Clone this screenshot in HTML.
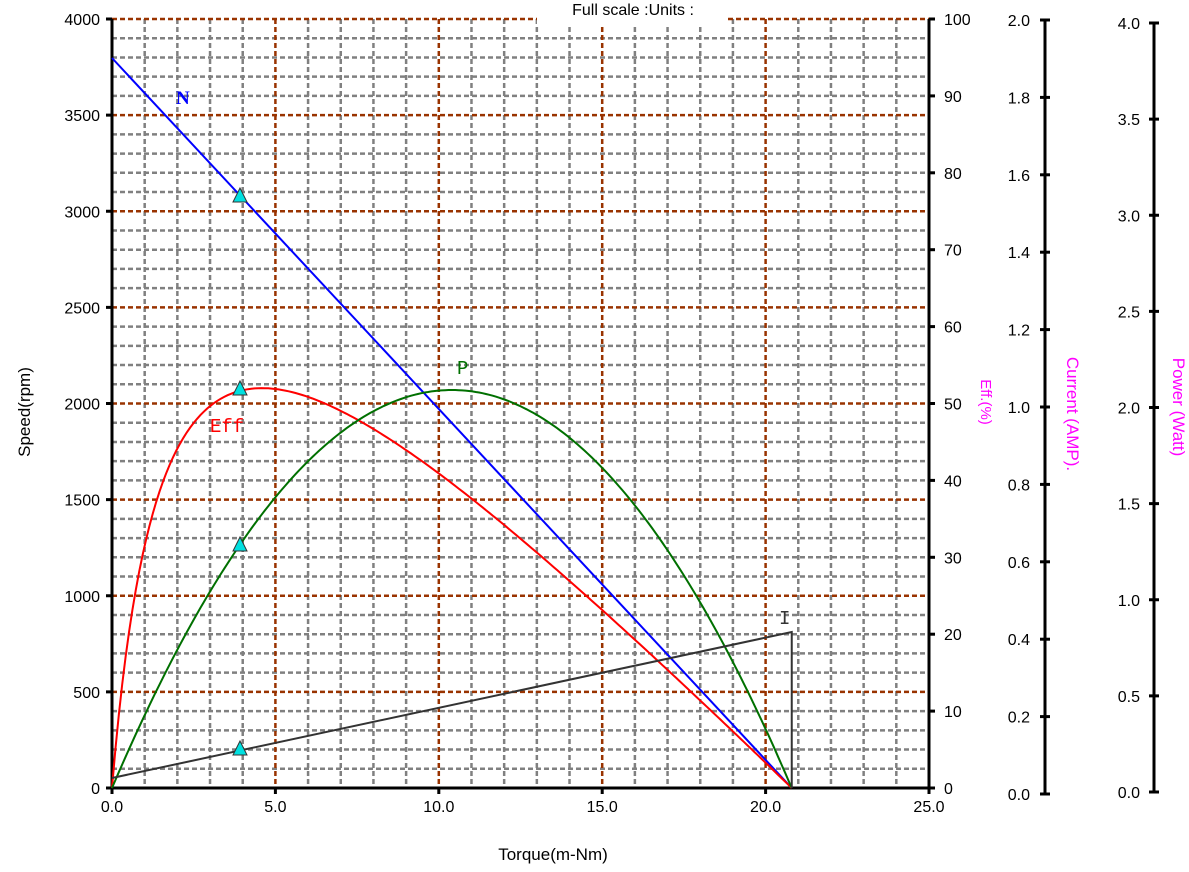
<!DOCTYPE html>
<html><head><meta charset="utf-8"><style>
html,body{margin:0;padding:0;background:#fff;}
svg{display:block;font-family:"Liberation Sans",sans-serif;}
</style></head><body>
<svg id="s" width="1189" height="872" viewBox="0 0 1189 872" xmlns="http://www.w3.org/2000/svg">
<g id="grid"></g>
<rect x="537" y="10" width="190" height="16" fill="#fff"/>
<text x="633" y="15" font-size="16" text-anchor="middle">Full scale :Units :</text>
<g id="axes" stroke="#000" stroke-width="3" fill="none">
<line x1="112" y1="19" x2="112" y2="789"/>
<line x1="111" y1="788" x2="930" y2="788"/>
<line x1="929" y1="19" x2="929" y2="789"/>
<line x1="1045" y1="20" x2="1045" y2="794"/>
<line x1="1154" y1="23" x2="1154" y2="792"/>
</g>
<g id="ticks" stroke="#000" stroke-width="3"></g>
<g id="labels" font-size="16" fill="#000"></g>
<g id="curves" fill="none" stroke-width="2"></g>
<text x="176" y="104" font-family="Liberation Serif,serif" font-weight="bold" font-size="19" fill="#0000ff">N</text>
<text x="210" y="432" font-family="Liberation Mono,monospace" font-size="19" fill="#ff0000">Eff</text>
<text x="457" y="374" font-family="Liberation Mono,monospace" font-size="19" fill="#007000">P</text>
<text x="779" y="624" font-family="Liberation Mono,monospace" font-size="19" fill="#333">I</text>
<text transform="translate(30,412) rotate(-90)" font-size="17" text-anchor="middle">Speed(rpm)</text>
<text x="553" y="860" font-size="17" text-anchor="middle">Torque(m-Nm)</text>
<text transform="translate(981,402) rotate(90)" font-size="15" fill="#ff00ff" text-anchor="middle">Eff.(%)</text>
<text transform="translate(1067,414) rotate(90)" font-size="17" fill="#ff00ff" text-anchor="middle">Current (AMP).</text>
<text transform="translate(1173,407) rotate(90)" font-size="17" fill="#ff00ff" text-anchor="middle">Power (Watt)</text>
<g id="tri"></g>
</svg>
<script>
var NS="http://www.w3.org/2000/svg";
function el(p,t,a,txt){var e=document.createElementNS(NS,t);for(var k in a)e.setAttribute(k,a[k]);if(txt!==undefined)e.textContent=txt;document.getElementById(p).appendChild(e);return e;}
var L=112,R=929,T=19,B=788,dx=(R-L)/25,dy=(B-T)/40;
for(var i=1;i<25;i++){if(i%5)el("grid","line",{x1:L+i*dx,y1:T,x2:L+i*dx,y2:B,stroke:"#808080","stroke-width":2.5,"stroke-dasharray":"5,3"});}
for(var j=0;j<40;j++){if(j%5)el("grid","line",{x1:L,y1:B-j*dy,x2:R,y2:B-j*dy,stroke:"#808080","stroke-width":2.5,"stroke-dasharray":"5,3"});}
for(var i=5;i<25;i+=5)el("grid","line",{x1:L+i*dx,y1:T,x2:L+i*dx,y2:B,stroke:"#993300","stroke-width":2.5,"stroke-dasharray":"5,3"});
for(var j=5;j<=40;j+=5)el("grid","line",{x1:L,y1:B-j*dy,x2:R,y2:B-j*dy,stroke:"#993300","stroke-width":2.5,"stroke-dasharray":"5,3"});
for(var k=0;k<=8;k++){var y=B-k*5*dy;el("ticks","line",{x1:106,y1:y,x2:112,y2:y});el("labels","text",{x:100,y:y+6,"text-anchor":"end"},String(k*500));}
for(var k=0;k<=5;k++){var x=L+k*5*dx;el("ticks","line",{x1:x,y1:788,x2:x,y2:794});el("labels","text",{x:x,y:812,"text-anchor":"middle"},(k*5).toFixed(1));}
for(var k=0;k<=10;k++){var y=B-k*4*dy;el("ticks","line",{x1:929,y1:y,x2:935,y2:y});el("labels","text",{x:944,y:y+6},String(k*10));}
var c0=794,c1=20;
for(var k=0;k<=10;k++){var y=c0-(c0-c1)*k/10;el("ticks","line",{x1:1040,y1:y,x2:1050,y2:y});el("labels","text",{x:1030,y:y+6,"text-anchor":"end"},(k*0.2).toFixed(1));}
var p0=792,p1=23;
for(var k=0;k<=8;k++){var y=p0-(p0-p1)*k/8;el("ticks","line",{x1:1149,y1:y,x2:1159,y2:y});el("labels","text",{x:1140,y:y+6,"text-anchor":"end"},(k*0.5).toFixed(1));}
var Ts=20.8,X=function(t){return L+t*dx;};
el("curves","line",{x1:X(0),y1:58,x2:X(Ts),y2:788,stroke:"#0000ff"});
var a=0.08,b=1-a,tp=(-a+Math.sqrt(a*a+a*b))/b,fp=tp*(1-tp)/(a+b*tp);
var pe="",pp="";
for(var n=0;n<=200;n++){var t=n/200;var f=t*(1-t)/(a+b*t)/fp*0.52;pe+=(n?"L":"M")+X(t*Ts).toFixed(1)+","+(B-f*769).toFixed(1);
var pv=4*t*(1-t);pp+=(n?"L":"M")+X(t*Ts).toFixed(1)+","+(B-pv*(B-390)).toFixed(1);}
el("curves","path",{d:pe,stroke:"#ff0000"});
el("curves","path",{d:pp,stroke:"#007000"});
el("curves","path",{d:"M"+X(0)+",778L"+X(Ts)+",632L"+X(Ts)+",788",stroke:"#333"});
[196,389,545,749].forEach(function(y){var x=240;el("tri","polygon",{points:(x-7)+","+(y+6)+" "+(x+7)+","+(y+6)+" "+x+","+(y-8),fill:"#00e0e0",stroke:"#333","stroke-width":1});});
</script>
</body></html>
